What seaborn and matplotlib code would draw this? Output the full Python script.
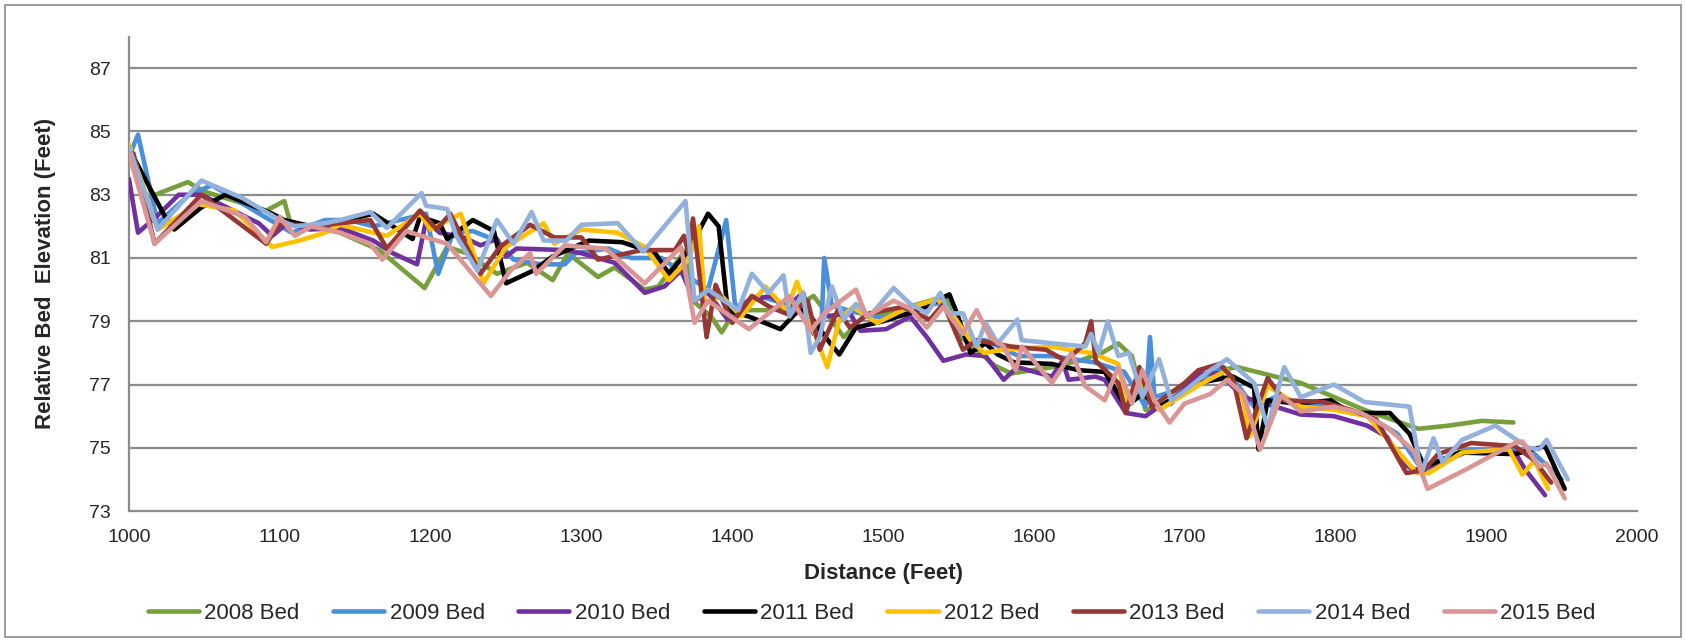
import matplotlib
matplotlib.use("Agg")
import matplotlib.pyplot as plt
from matplotlib.patches import Rectangle
import pandas as pd
import seaborn as sns

# Surveyed bed profiles: distance along reach (ft) and relative bed elevation (ft)
bed_2008_x = [1000, 1012, 1039, 1050, 1091, 1103, 1107, 1120, 1140, 1166, 1196, 1211, 1224, 1244, 1264, 1281, 1291, 1311, 1322, 1342, 1351, 1369, 1375, 1386, 1393, 1402, 1425, 1445, 1454, 1474, 1487, 1502, 1524, 1542, 1549, 1562, 1574, 1585, 1612, 1630, 1645, 1656, 1665, 1674, 1687, 1705, 1717, 1735, 1777, 1819, 1855, 1875, 1897, 1918]
bed_2008_y = [84.5, 82.9, 83.4, 83.1, 82.5, 82.8, 82.1, 82.0, 81.8, 81.25, 80.05, 81.35, 81.15, 80.5, 80.85, 80.3, 81.15, 80.4, 80.7, 80.0, 80.1, 81.25, 79.6, 79.15, 78.65, 79.35, 79.35, 79.55, 79.8, 78.5, 79.15, 79.25, 79.55, 79.8, 78.6, 78.1, 77.6, 77.35, 77.55, 77.75, 78.0, 78.3, 77.9, 76.2, 76.3, 77.15, 77.4, 77.55, 77.05, 76.2, 75.6, 75.7, 75.85, 75.8]

bed_2009_x = [1000, 1006, 1019, 1040, 1055, 1090, 1108, 1130, 1146, 1162, 1197, 1205, 1215, 1228, 1244, 1255, 1273, 1289, 1296, 1318, 1333, 1353, 1371, 1384, 1396, 1402, 1417, 1432, 1450, 1459, 1461, 1466, 1480, 1500, 1520, 1540, 1555, 1568, 1590, 1612, 1640, 1660, 1674, 1677, 1680, 1700, 1726, 1746, 1760, 1777, 1800, 1821, 1841, 1856, 1862, 1884, 1919, 1932, 1950]
bed_2009_y = [84.2, 84.9, 82.1, 83.0, 83.3, 82.3, 81.8, 82.2, 82.2, 82.0, 82.4, 80.5, 81.8, 81.85, 81.55, 80.95, 80.8, 80.8, 81.15, 81.3, 81.0, 81.0, 80.4, 80.0, 82.2, 79.45, 79.8, 79.6, 79.2, 78.6, 81.0, 79.5, 79.3, 79.1, 79.4, 79.6, 78.4, 78.4, 77.9, 77.9, 77.7, 77.4, 76.3, 78.5, 76.6, 76.9, 77.55, 76.3, 76.6, 76.4, 76.3, 76.0, 75.45, 74.4, 74.3, 74.9, 74.95, 74.8, 74.0]

bed_2010_x = [1000, 1006, 1018, 1033, 1048, 1086, 1095, 1105, 1120, 1140, 1162, 1175, 1191, 1197, 1206, 1222, 1233, 1244, 1250, 1257, 1289, 1300, 1322, 1342, 1355, 1366, 1375, 1384, 1397, 1411, 1425, 1436, 1447, 1454, 1461, 1478, 1485, 1502, 1518, 1529, 1540, 1555, 1568, 1580, 1589, 1612, 1619, 1623, 1641, 1647, 1661, 1674, 1683, 1691, 1709, 1723, 1739, 1750, 1777, 1799, 1821, 1834, 1845, 1852, 1862, 1886, 1919, 1926, 1939]
bed_2010_y = [83.5, 81.8, 82.3, 83.0, 83.0, 82.1, 81.7, 82.1, 81.9, 81.95, 81.55, 81.15, 80.8, 82.2, 81.8, 81.65, 81.4, 81.6, 81.05, 81.3, 81.25, 81.15, 80.85, 79.9, 80.1, 80.6, 79.65, 79.9, 79.05, 79.65, 79.8, 79.45, 79.9, 78.6, 79.15, 79.25, 78.7, 78.75, 79.15, 78.5, 77.75, 77.95, 77.9, 77.15, 77.55, 77.25, 77.75, 77.15, 77.25, 77.15, 76.1, 76.0, 76.3, 76.4, 77.35, 77.35, 76.6, 76.45, 76.05, 76.0, 75.7, 75.35, 74.5, 74.3, 74.4, 74.85, 74.85, 74.3, 73.5]

bed_2011_x = [1000, 1004, 1024, 1030, 1048, 1064, 1095, 1103, 1121, 1140, 1162, 1188, 1193, 1206, 1211, 1228, 1242, 1250, 1268, 1281, 1305, 1327, 1349, 1358, 1371, 1384, 1391, 1397, 1411, 1432, 1445, 1452, 1465, 1471, 1482, 1500, 1524, 1544, 1549, 1558, 1568, 1576, 1587, 1612, 1630, 1647, 1661, 1672, 1683, 1709, 1732, 1746, 1749, 1755, 1774, 1797, 1810, 1836, 1849, 1859, 1882, 1919, 1939, 1952]
bed_2011_y = [84.3, 84.1, 82.3, 81.9, 82.6, 83.0, 82.4, 82.2, 82.0, 82.15, 82.4, 81.6, 82.3, 82.1, 81.6, 82.2, 81.85, 80.2, 80.6, 81.05, 81.55, 81.5, 81.15, 80.5, 81.25, 82.4, 82.0, 79.35, 79.15, 78.75, 79.4, 79.15, 78.3, 77.95, 78.8, 79.0, 79.35, 79.85, 79.25, 78.0, 78.3, 77.95, 77.7, 77.65, 77.45, 77.4, 76.3, 76.7, 76.3, 77.05, 77.25, 76.9, 74.95, 76.5, 76.4, 76.5, 76.1, 76.1, 75.45, 74.4, 74.85, 74.8, 75.05, 73.7]

bed_2012_x = [1000, 1019, 1046, 1070, 1095, 1113, 1130, 1140, 1171, 1193, 1200, 1220, 1235, 1250, 1275, 1282, 1300, 1324, 1342, 1358, 1371, 1378, 1382, 1393, 1406, 1422, 1436, 1443, 1452, 1463, 1471, 1480, 1496, 1513, 1536, 1547, 1558, 1567, 1580, 1612, 1623, 1638, 1656, 1661, 1670, 1683, 1700, 1710, 1728, 1739, 1743, 1755, 1777, 1799, 1821, 1843, 1854, 1862, 1884, 1915, 1924, 1932, 1941]
bed_2012_y = [84.6, 81.9, 82.7, 82.5, 81.35, 81.55, 81.8, 82.05, 81.7, 82.4, 81.9, 82.4, 80.2, 81.35, 82.1, 81.45, 81.9, 81.8, 81.35, 80.3, 80.95, 82.0, 79.55, 79.8, 79.15, 80.1, 79.35, 80.25, 78.95, 77.55, 79.05, 79.45, 78.95, 79.35, 79.7, 79.15, 78.4, 78.0, 78.1, 78.2, 78.1, 78.0, 77.65, 76.5, 77.2, 76.2, 76.7, 77.0, 77.45, 76.5, 75.35, 76.95, 76.3, 76.2, 76.0, 74.8, 74.2, 74.2, 74.85, 74.95, 74.15, 74.6, 73.7]

bed_2013_x = [1000, 1003, 1017, 1048, 1091, 1100, 1120, 1140, 1160, 1171, 1193, 1204, 1213, 1233, 1246, 1266, 1282, 1300, 1311, 1340, 1362, 1368, 1371, 1374, 1383, 1389, 1400, 1413, 1425, 1438, 1450, 1458, 1470, 1478, 1491, 1513, 1531, 1540, 1553, 1562, 1585, 1608, 1621, 1634, 1638, 1641, 1656, 1661, 1670, 1678, 1687, 1700, 1709, 1723, 1732, 1741, 1755, 1766, 1792, 1810, 1827, 1847, 1859, 1868, 1890, 1919, 1932, 1943]
bed_2013_y = [84.4, 84.3, 81.45, 83.0, 81.45, 82.1, 82.0, 82.1, 82.2, 81.3, 82.5, 81.9, 82.4, 80.5, 81.35, 82.05, 81.65, 81.65, 80.95, 81.25, 81.25, 81.7, 81.15, 82.25, 78.5, 80.15, 78.95, 79.8, 79.45, 79.2, 79.65, 78.1, 79.35, 78.8, 79.25, 79.45, 79.05, 79.55, 78.1, 78.4, 78.2, 78.1, 77.75, 78.3, 79.0, 77.75, 77.05, 76.1, 77.55, 76.3, 76.6, 77.05, 77.45, 77.65, 77.2, 75.3, 77.2, 76.5, 76.45, 76.2, 75.9, 74.2, 74.3, 74.8, 75.15, 75.05, 74.6, 73.9]

bed_2014_x = [1000, 1019, 1048, 1075, 1100, 1110, 1130, 1140, 1160, 1171, 1194, 1197, 1211, 1217, 1231, 1244, 1255, 1267, 1275, 1290, 1300, 1324, 1341, 1369, 1375, 1384, 1404, 1413, 1424, 1434, 1438, 1447, 1452, 1458, 1466, 1474, 1482, 1491, 1507, 1518, 1529, 1538, 1544, 1553, 1562, 1568, 1576, 1589, 1592, 1634, 1638, 1643, 1649, 1656, 1663, 1672, 1683, 1691, 1700, 1717, 1728, 1746, 1755, 1766, 1777, 1799, 1819, 1849, 1857, 1865, 1871, 1884, 1906, 1928, 1935, 1940, 1954]
bed_2014_y = [84.5, 81.9, 83.45, 82.9, 82.2, 82.0, 82.1, 82.2, 82.45, 81.95, 83.05, 82.65, 82.55, 81.7, 80.6, 82.2, 81.45, 82.45, 81.55, 81.55, 82.05, 82.1, 81.2, 82.8, 79.65, 80.0, 79.35, 80.5, 79.9, 80.45, 79.15, 79.9, 78.0, 78.5, 80.1, 79.05, 79.55, 79.15, 80.05, 79.55, 79.25, 79.9, 79.25, 79.25, 78.2, 78.95, 78.3, 79.05, 78.4, 78.2, 78.6, 78.0, 79.0, 77.9, 78.0, 76.6, 77.8, 76.5, 76.8, 77.45, 77.8, 77.05, 75.65, 77.55, 76.6, 77.0, 76.45, 76.3, 74.2, 75.3, 74.55, 75.25, 75.7, 75.0, 74.95, 75.25, 74.0]

bed_2015_x = [1000, 1017, 1048, 1077, 1091, 1100, 1110, 1121, 1140, 1160, 1168, 1184, 1197, 1211, 1240, 1253, 1266, 1270, 1289, 1300, 1316, 1342, 1366, 1375, 1384, 1393, 1411, 1432, 1438, 1452, 1461, 1482, 1489, 1507, 1518, 1529, 1540, 1553, 1562, 1571, 1580, 1588, 1592, 1612, 1625, 1634, 1647, 1656, 1665, 1672, 1680, 1690, 1700, 1717, 1728, 1739, 1750, 1764, 1777, 1799, 1817, 1834, 1852, 1861, 1886, 1919, 1924, 1935, 1940, 1952]
bed_2015_y = [84.3, 81.45, 82.8, 82.3, 81.5, 82.3, 81.7, 82.0, 81.8, 81.45, 80.95, 81.85, 81.65, 81.45, 79.8, 80.6, 81.15, 80.5, 81.4, 81.35, 81.3, 80.2, 81.35, 78.95, 79.65, 79.35, 78.75, 79.55, 79.8, 78.7, 79.25, 80.0, 79.15, 79.65, 79.4, 78.8, 79.45, 78.6, 79.35, 78.5, 78.2, 77.45, 78.2, 77.05, 78.0, 76.95, 76.5, 77.55, 76.4, 77.45, 76.5, 75.8, 76.4, 76.7, 77.15, 76.7, 74.95, 76.65, 76.15, 76.3, 76.1, 75.65, 74.9, 73.7, 74.3, 75.15, 75.2, 74.4, 74.5, 73.4]

series_names = ["2008 Bed", "2009 Bed", "2010 Bed", "2011 Bed",
                "2012 Bed", "2013 Bed", "2014 Bed", "2015 Bed"]
series_x = [bed_2008_x, bed_2009_x, bed_2010_x, bed_2011_x,
            bed_2012_x, bed_2013_x, bed_2014_x, bed_2015_x]
series_y = [bed_2008_y, bed_2009_y, bed_2010_y, bed_2011_y,
            bed_2012_y, bed_2013_y, bed_2014_y, bed_2015_y]
series_colors = ["#77A03C", "#4A8FDA", "#7030A0", "#000000",
                 "#FFC000", "#953735", "#93B1DD", "#D99694"]

x_ticks = list(range(1000, 2001, 100))
y_ticks = list(range(73, 88, 2))

frames = []
for name, xs, ys in zip(series_names, series_x, series_y):
    frames.append(pd.DataFrame({"Distance": xs, "Elevation": ys, "Survey": name}))
df = pd.concat(frames, ignore_index=True)

sns.set_style("white")
plt.rcParams["font.family"] = ["Liberation Sans Narrow", "Liberation Sans", "DejaVu Sans"]

fig = plt.figure(figsize=(16.86, 6.42), dpi=100)
ax = fig.add_axes([0.0765, 0.204, 0.8945, 0.739])

grid_color = "#8C8C8C"
for yv in y_ticks[1:]:
    ax.axhline(yv, color=grid_color, lw=1.6, zorder=0)

sns.lineplot(data=df, x="Distance", y="Elevation", hue="Survey",
             hue_order=series_names, palette=dict(zip(series_names, series_colors)),
             estimator=None, sort=False, linewidth=3.3, ax=ax, legend=True, zorder=3)

ax.set_xlim(1000, 2000)
ax.set_ylim(73, 88)
ax.set_xticks(x_ticks)
ax.set_yticks(y_ticks)
ax.tick_params(axis="both", labelsize=14, length=7, width=1.4,
               color=grid_color, direction="out", pad=6)
for s in ["top", "right"]:
    ax.spines[s].set_visible(False)
for s in ["left", "bottom"]:
    ax.spines[s].set_color(grid_color)
    ax.spines[s].set_linewidth(1.6)

ax.set_xlabel("Distance (Feet)", fontsize=16, fontweight="bold", labelpad=12)
ax.set_ylabel("Relative Bed  Elevation (Feet)", fontsize=16, fontweight="bold", labelpad=24)

handles, labels = ax.get_legend_handles_labels()
ax.legend_.remove()
fig.legend(handles, labels, loc="center", bbox_to_anchor=(0.517, 0.045), ncol=8,
           frameon=False, fontsize=16, handlelength=2.3, handletextpad=0.25,
           columnspacing=1.5)

fig.patches.append(Rectangle((0.003, 0.008), 0.994, 0.984, transform=fig.transFigure,
                             fill=False, edgecolor="#8C8C8C", lw=1.2))

fig.savefig("out.png", dpi=100)
